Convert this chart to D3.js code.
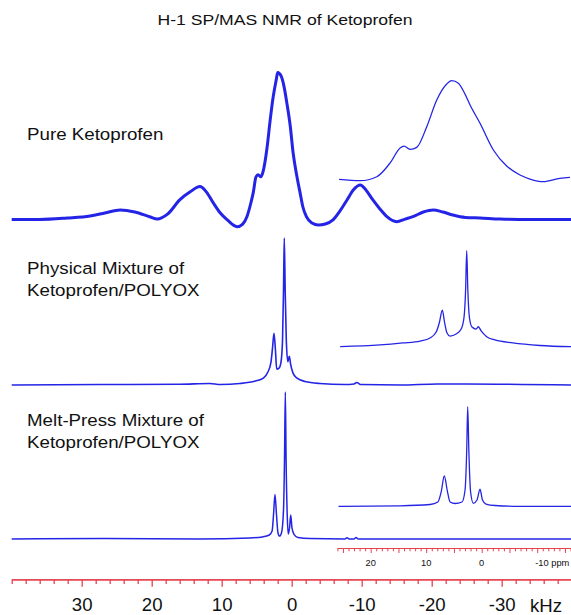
<!DOCTYPE html>
<html>
<head>
<meta charset="utf-8">
<script src="https://cdn.jsdelivr.net/npm/d3@7"></script>
<style>
  body { margin: 0; background: #fff; }
  text { font-family: "Liberation Sans", Arial, sans-serif; fill: #111; }
</style>
</head>
<body>
<div id="chart"></div>
<script>
// spectra as [shift, intensity] pairs; main traces in kHz, insets in ppm
const pureSpectrum = [[40,0],[36,0],[32.1,1.0],[28.8,2.4],[26.7,4.4],[24.5,6.5],[22.4,5.1],[20.2,1.7],[19.2,0.3],
  [17.7,3.8],[16.0,13.3],[14.5,18.8],[13.1,22.4],[12.2,18.8],[11.2,11.3],[10.2,4.4],[9.2,-0.3],[7.8,-4.9],[7.0,-3.1],
  [6.4,1.9],[5.8,11.9],[5.5,18.1],[5.1,29.0],[4.8,30.4],[4.4,29.0],[4.1,32.4],[3.5,49.7],[3.1,66.6],[2.7,81.6],
  [2.2,95.2],[2.0,100],[1.5,97.5],[1.1,90.6],[0.7,79.5],[0.2,63.3],[-0.2,45.4],[-0.7,30.4],[-1.2,18.1],[-1.6,8.5],
  [-2.1,1.9],[-2.9,-2.4],[-3.8,-3.8],[-4.8,-3.1],[-5.9,-0.3],[-6.9,5.8],[-7.9,13.3],[-8.8,20.1],[-9.8,23.5],
  [-10.6,20.1],[-11.6,13.3],[-12.6,7.2],[-13.6,1.9],[-15.0,-1.5],[-16.2,0.3],[-17.3,1.9],[-18.8,5.1],[-20.2,6.5],
  [-21.6,5.1],[-23.0,3.1],[-24.8,1.4],[-26.9,1.0],[-29.8,0.3],[-34.0,0],[-40,0]];

const pureInset = [[25.7,0.2],[21.9,-1.2],[18.9,2.8],[16.5,16.7],[14.7,31.8],[14.0,33.8],[12.9,30.5],[11.7,32.5],
  [9.9,53.3],[8.1,80.3],[6.3,96.5],[5.4,99.8],[4.2,97.2],[3.2,88.4],[2.1,75.3],[0.3,56.8],[-2.1,29.8],[-4.5,13.6],
  [-6.9,4.5],[-8.7,0.5],[-11.1,-2.2],[-14.1,1.2],[-15.9,2.2]];

const physicalSpectrum = [[40,0],[27.4,0.3],[16.0,0.5],[11.7,1.0],[10.2,0.3],[7.4,1.0],[5.2,2.7],[4.06,4.7],
  [3.4,8.8],[2.96,15.6],[2.74,25.1],[2.53,35.2],[2.34,25.1],[2.14,10.8],[1.81,11.5],[1.53,15.6],[1.31,30.5],
  [1.17,64.3],[1.06,100],[0.93,64.3],[0.77,30.5],[0.55,15.8],[0.34,19.6],[0.15,14],[-0.19,8.1],[-0.76,4.7],
  [-1.9,2.4],[-4.0,1.0],[-7.6,0.3],[-8.9,0.7],[-9.3,1.7],[-9.9,0.3],[-15.5,0],[-20.8,0.7],[-25.0,0.7],[-40,0]];

const physicalInset = [[25.5,0],[18.3,1.8],[14.2,3.9],[11.1,5.9],[9.3,9.1],[8.2,15.3],[7.6,25.7],[7.1,38.2],
  [6.7,25.7],[6.25,14.3],[5.7,11.1],[4.6,13.2],[3.7,18.4],[3.2,29.9],[2.9,59.1],[2.7,100],[2.5,59.1],[2.2,29.9],
  [1.75,20.5],[1.0,18.4],[0.6,20.8],[0.1,16.4],[-0.9,10.4],[-2.4,7.0],[-5.6,3.9],[-10.5,1.25],[-16.1,0]];

const meltSpectrum = [[40,0],[26.7,0.3],[13.1,0],[6.0,0.7],[4.2,1.4],[3.2,2.7],[2.8,5.4],[2.6,16.3],[2.39,30.3],
  [2.17,16.3],[1.96,4.1],[1.74,2.0],[1.46,4.1],[1.17,19.7],[1.03,53.6],[0.91,100],[0.8,53.6],[0.64,16.3],
  [0.49,3.4],[0.31,7.5],[0.14,16.3],[-0.04,7.5],[-0.33,3.1],[-0.9,1.0],[-2.6,0.3],[-7.6,0],[-7.9,0.8],[-8.2,0],
  [-8.9,0],[-9.2,1.0],[-9.5,0],[-40,0]];

const meltInset = [[25.8,0],[14.7,0.5],[9.3,1.8],[7.9,4.3],[7.3,14.4],[6.74,30.4],[6.16,14.4],[5.7,4.3],
  [4.8,2.8],[3.55,4.3],[3.0,16.4],[2.7,56.5],[2.52,100],[2.32,56.5],[2.0,14.4],[1.5,3.0],[0.85,6.3],[0.3,17.1],
  [-0.14,6.3],[-0.77,2.3],[-2.4,0.8],[-6.9,0],[-16.1,0]];

const panelLabels = [["Pure Ketoprofen"], ["Physical Mixture of", "Ketoprofen/POLYOX"], ["Melt-Press Mixture of", "Ketoprofen/POLYOX"]];
const kHzTicks = [30, 20, 10, 0, -10, -20, -30];
const ppmTicks = [20, 10, 0, -10];
const title = "H-1 SP/MAS NMR of Ketoprofen";

const W = 571, H = 615;
const BLUE = "#2424e6", RED = "#e5424f";
const STRETCH = 1.15;

const svg = d3.select("#chart").append("svg")
  .attr("width", W)
  .attr("height", H);

const x = d3.scaleLinear().domain([40, -40]).range([11.7, 571.7]);
const xi = d3.scaleLinear().domain([26, -16]).range([337.4, 570.5]);

// layout of each stacked trace and its inset
const panels = [
  { main: pureSpectrum, inset: pureInset, base: 219.5, insetBase: 179.5, insetH: 99, width: 3, labelY: 140 },
  { main: physicalSpectrum, inset: physicalInset, base: 385, insetBase: 346.7, insetH: 96, width: 1.6, labelY: 274 },
  { main: meltSpectrum, inset: meltInset, base: 539, insetBase: 506.3, insetH: 99.6, width: 1.5, labelY: 426 }
];

svg.append("text")
  .attr("transform", `translate(285,25) scale(${STRETCH},1)`)
  .attr("text-anchor", "middle")
  .style("font-size", "15.3px")
  .text(title);

panels.forEach((p, i) => {
  const y = d3.scaleLinear().domain([0, 100]).range([p.base, p.base - 147]);
  const yi = d3.scaleLinear().domain([0, 100]).range([p.insetBase, p.insetBase - p.insetH]);

  const line = d3.line().x(d => x(d[0])).y(d => y(d[1])).curve(d3.curveMonotoneX);
  const lineInset = d3.line().x(d => xi(d[0])).y(d => yi(d[1])).curve(d3.curveMonotoneX);

  svg.append("path")
    .attr("d", line(p.main))
    .attr("fill", "none")
    .attr("stroke", BLUE)
    .attr("stroke-width", p.width)
    .attr("stroke-linejoin", "round");

  svg.append("path")
    .attr("d", lineInset(p.inset))
    .attr("fill", "none")
    .attr("stroke", BLUE)
    .attr("stroke-width", 1.3)
    .attr("stroke-linejoin", "round");

  panelLabels[i].forEach((t, j) => {
    svg.append("text")
      .attr("transform", `translate(27,${p.labelY + j * 22}) scale(${STRETCH},1)`)
      .style("font-size", "16.3px")
      .text(t);
  });
});

// main kHz axis: minor every 2 kHz, labelled majors every 10
const axisY = 579.3;
const minorKHz = d3.range(-38, 40, 2).filter(v => v % 10 !== 0).concat([40]);

svg.append("g")
  .attr("class", "axis-minor")
  .attr("transform", `translate(0,${axisY})`)
  .call(d3.axisBottom(x).tickValues(minorKHz).tickSize(4.7).tickSizeOuter(0).tickFormat(""));

svg.append("g")
  .attr("class", "axis-major")
  .attr("transform", `translate(0,${axisY})`)
  .call(d3.axisBottom(x).tickValues(kHzTicks).tickSize(7.4).tickSizeOuter(0).tickPadding(11.5).tickFormat(d => String(d)));

svg.selectAll(".axis-minor path, .axis-minor line, .axis-major path, .axis-major line")
  .attr("stroke", RED)
  .attr("stroke-width", 1.3);
svg.selectAll(".axis-major text")
  .style("font-size", "18.6px")
  .style("font-family", "'Liberation Sans', Arial, sans-serif")
  .attr("fill", "#111");

svg.append("text")
  .attr("x", 530)
  .attr("y", 611.7)
  .style("font-size", "18.6px")
  .text("kHz");

// inset ppm axis: minor every 1 ppm, longer every 5
const insetAxisY = 548;
const minorPpm = d3.range(-16, 27, 1).filter(v => v % 5 !== 0);
const majorPpm = d3.range(-15, 27, 5);

svg.append("g")
  .attr("class", "inset-minor")
  .attr("transform", `translate(0,${insetAxisY})`)
  .call(d3.axisBottom(xi).tickValues(minorPpm).tickSize(3.3).tickSizeOuter(0).tickFormat(""));

svg.append("g")
  .attr("class", "inset-major")
  .attr("transform", `translate(0,${insetAxisY})`)
  .call(d3.axisBottom(xi).tickValues(majorPpm).tickSize(5).tickSizeOuter(0).tickFormat(""));

svg.selectAll(".inset-minor path, .inset-minor line, .inset-major path, .inset-major line")
  .attr("stroke", RED)
  .attr("stroke-width", 1);

svg.append("g")
  .selectAll("text")
  .data(ppmTicks)
  .join("text")
  .attr("x", d => d === -10 ? xi(d) - 2 : xi(d))
  .attr("y", 566.3)
  .attr("text-anchor", d => d === -10 ? "start" : "middle")
  .style("font-size", "9.3px")
  .text(d => d === -10 ? `${d} ppm` : d);
</script>
</body>
</html>
